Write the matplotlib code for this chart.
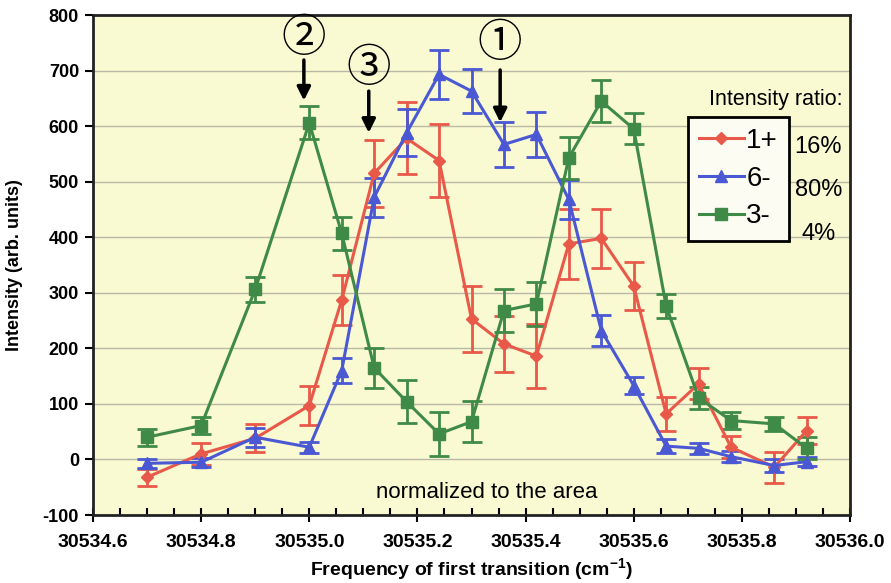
import numpy as np
import matplotlib
matplotlib.use('Agg')
import matplotlib.pyplot as plt
from matplotlib.ticker import MultipleLocator, FormatStrFormatter
from matplotlib.lines import Line2D

# frequency of first transition (cm-1)
freq = [30534.7, 30534.8, 30534.9, 30535.0, 30535.06, 30535.12, 30535.18,
        30535.24, 30535.30, 30535.36, 30535.42, 30535.48, 30535.54, 30535.60,
        30535.66, 30535.72, 30535.78, 30535.86, 30535.92]

# 1+
red_y = [-32, 10, 38, 97, 287, 515, 578, 538, 253, 208, 186, 388, 398, 312,
         82, 136, 22, -14, 52]
red_err = [15, 20, 25, 35, 45, 60, 65, 65, 60, 50, 58, 63, 53, 43,
           30, 28, 20, 28, 24]

# 6-
blue_y = [-7, -5, 40, 22, 160, 472, 588, 693, 663, 567, 585, 468, 232, 133,
          24, 20, 5, -11, -4]
blue_err = [8, 8, 17, 10, 22, 35, 42, 44, 40, 40, 40, 35, 28, 16,
            12, 10, 10, 12, 8]

# 3-
green_y = [40, 61, 306, 606, 407, 165, 104, 46, 68, 268, 280, 543, 645, 595,
           276, 111, 70, 64, 20]
green_err = [15, 15, 22, 30, 30, 36, 39, 39, 37, 39, 39, 38, 38, 28,
             22, 20, 15, 12, 20]

labels = ['1+', '6-', '3-']
ratios = ['16%', '80%', '4%']

plt.rcParams['mathtext.default'] = 'bf'
plt.rcParams['mathtext.fontset'] = 'custom'
plt.rcParams['mathtext.bf'] = 'Liberation Sans:bold'
plt.rcParams['axes.unicode_minus'] = False
xfont = dict(family='Liberation Sans', weight='bold', size=14)
yfont = dict(family='Liberation Sans', weight='bold', size=13)

fig = plt.figure(figsize=(8.91, 5.83), dpi=100)
ax = fig.add_axes([93/891, 68/583, 757/891, 500/583])
ax.set_facecolor('#f9f9d2')

series = [(red_y, red_err, '#e8594a', 'D', 6),
          (blue_y, blue_err, '#4a58d4', '^', 8),
          (green_y, green_err, '#3f8a46', 's', 8)]
handles = []
for (y, e, c, m, ms), lab in zip(series, labels):
    ax.errorbar(freq, y, yerr=e, color=c, marker=m, markersize=ms, lw=2.2,
                elinewidth=2, capsize=7, capthick=2, zorder=3)
    handles.append(Line2D([], [], color=c, marker=m, markersize=ms, lw=2.2, label=lab))

ax.set_xlim(30534.6, 30536.0)
ax.set_ylim(-100, 800)
ax.xaxis.set_major_locator(MultipleLocator(0.2))
ax.xaxis.set_minor_locator(MultipleLocator(0.05))
ax.xaxis.set_major_formatter(FormatStrFormatter('%.1f'))
ax.yaxis.set_major_locator(MultipleLocator(100))
ax.yaxis.grid(True, color='#b9b9a6', lw=1)
ax.set_axisbelow(True)

ax.tick_params(axis='x', which='major', direction='inout', length=10, width=1.5, pad=9)
ax.tick_params(axis='x', which='minor', direction='in', length=5, width=1.5)
ax.tick_params(axis='y', direction='out', length=6, width=1.5, pad=4)
for lab in ax.get_xticklabels():
    lab.set_fontproperties(matplotlib.font_manager.FontProperties(**xfont))
for lab in ax.get_yticklabels():
    lab.set_fontproperties(matplotlib.font_manager.FontProperties(**yfont))
for sp in ax.spines.values():
    sp.set_linewidth(2)
    sp.set_color('#222222')

ax.set_xlabel('Frequency of first transition (cm$^{-1}$)', fontdict=xfont)
ax.set_ylabel('Intensity (arb. units)', fontdict=yfont)
ax.xaxis.set_label_coords(0.5, -0.082)
ax.yaxis.set_label_coords(-0.092, 0.5)

# peak markers
arrows = [('②', 30534.99, 758, 724, 641),
          ('③', 30535.11, 704, 668, 583),
          ('①', 30535.353, 749, 706, 602)]
for txt, xa, ytxt, y0, y1 in arrows:
    ax.text(xa, ytxt, txt, ha='center', va='center', fontsize=32,
            family=['Noto Sans CJK JP', 'DejaVu Sans'])
    ax.annotate('', xy=(xa, y1), xytext=(xa, y0),
                arrowprops=dict(arrowstyle='-|>', lw=2.5, color='black', mutation_scale=20))

leg = ax.legend(handles=handles, loc='upper left', bbox_to_anchor=(0.786, 0.796),
                fancybox=False, framealpha=1, facecolor='#fcfcf2', edgecolor='black',
                prop={'family': 'Liberation Sans', 'size': 20}, handlelength=1.6,
                handletextpad=0.1, labelspacing=0.42, borderpad=0.4, borderaxespad=0)
leg.get_frame().set_linewidth(2)

ax.text(0.99, 0.83, 'Intensity ratio:', transform=ax.transAxes, ha='right', va='center',
        fontsize=15.5, family='Liberation Sans')
for i, r in enumerate(ratios):
    ax.text(0.958, 0.736 - i * 0.087, r, transform=ax.transAxes, ha='center', va='center',
            fontsize=17, family='Liberation Sans')

ax.text(0.52, 0.044, 'normalized to the area', transform=ax.transAxes, ha='center',
        va='center', fontsize=16, family='Liberation Sans')

plt.savefig('out.png', dpi=100)
